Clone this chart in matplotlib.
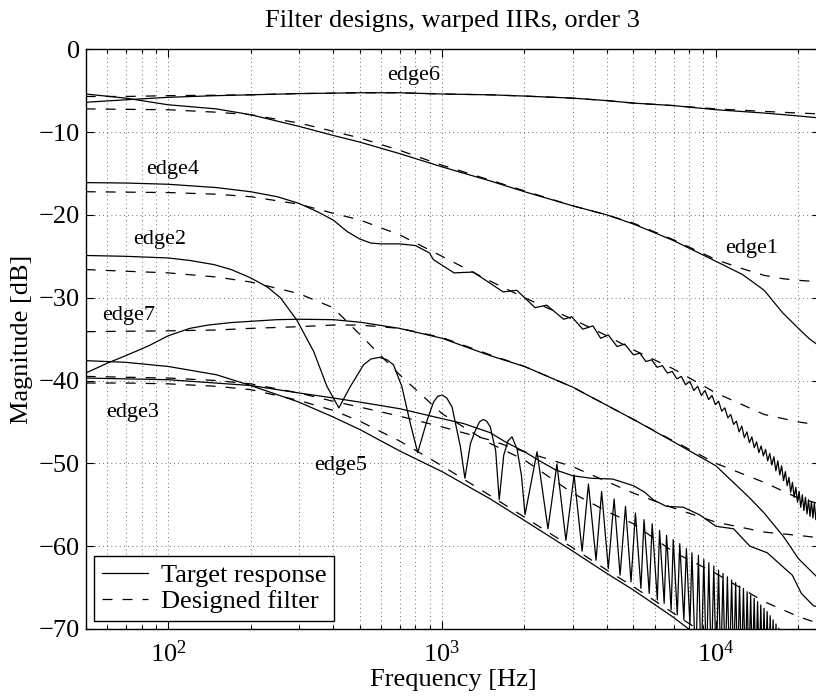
import matplotlib.pyplot as plt
from matplotlib.ticker import LogLocator, FixedLocator, NullLocator, LogFormatterMathtext

plt.rcParams['font.family'] = ['Liberation Serif', 'DejaVu Serif']
plt.rcParams['mathtext.fontset'] = 'stix'

# common frequency grid for the smooth responses [Hz]
freq = [50, 70, 100, 150, 200, 300, 400, 500, 700, 1000, 1500, 2000,
        3000, 4000, 5000, 7000, 10000, 15000, 20000, 24000]

# magnitudes in dB on the common grid
edge6_target = [-6.4, -6.1, -5.8, -5.6, -5.5, -5.35, -5.3, -5.25, -5.25, -5.4, -5.5, -5.65,
                -5.9, -6.2, -6.5, -6.8, -7.3, -7.7, -8.05, -8.3]
edge6_design = [-5.7, -5.7, -5.6, -5.55, -5.5, -5.35, -5.3, -5.25, -5.25, -5.4, -5.5, -5.65,
                -5.9, -6.2, -6.5, -6.8, -7.2, -7.5, -7.7, -7.8]
edge4_design = [-17.2, -17.25, -17.3, -17.5, -17.8, -18.7, -19.8, -20.6, -22.4, -25.0, -28.0, -30.0,
                -32.6, -34.6, -36.3, -38.6, -41.5, -44.1, -45.0, -45.4]
edge2_design = [-26.6, -26.8, -27.0, -27.5, -28.1, -29.5, -31.2, -34.4, -39.3, -44.0, -47.6, -49.6,
                -53.6, -55.8, -57.3, -60.7, -63.3, -66.7, -68.5, -69.4]
edge7_design = [-34.1, -34.05, -34.0, -33.9, -33.7, -33.5, -33.3, -33.3, -33.7, -34.8, -36.9, -38.3,
                -40.8, -43.0, -44.7, -47.3, -50.0, -52.3, -54.2, -54.9]
edge3_design = [-39.5, -39.6, -39.7, -40.0, -40.4, -41.5, -42.5, -43.2, -44.3, -45.6, -47.2, -48.6,
                -50.4, -52.2, -53.6, -55.4, -57.1, -58.3, -58.7, -59.0]
edge5_target = [-37.6, -37.8, -38.3, -39.3, -40.6, -42.6, -44.4, -45.9, -48.5, -51.0, -54.3, -56.9,
                -60.6, -63.3, -65.3, -68.6, -72.5, -76.0, -79.0, -81.0]
edge5_design = [-40.3, -40.3, -40.4, -40.7, -41.1, -42.4, -43.6, -44.9, -47.3, -50.3, -53.9, -56.5,
                -60.2, -62.9, -64.9, -68.1, -71.5, -75.0, -78.0, -80.0]

# edge7 rises quickly at the low end
edge7_freq = [50, 60, 70, 85, 100, 120, 140, 170, 200, 250, 300, 400, 500, 700, 1000, 1500, 2000,
              3000, 4000, 5000, 7000, 10000, 13300, 15000, 17700, 20000, 24000]
edge7_target = [-39.1, -37.9, -37.0, -35.8, -34.6, -33.7, -33.3, -33.0, -32.85, -32.65, -32.6,
                -32.65, -32.95, -33.7, -34.9, -37.0, -38.3, -40.8, -43.0, -44.7, -47.4, -50.3,
                -54.2, -56.0, -58.9, -61.5, -64.1]

# edge1 bends late, so it gets a denser grid at the top end
edge1_freq = [50, 70, 100, 150, 200, 300, 400, 500, 700, 1000, 1500, 2000,
              3000, 4000, 5000, 7000, 10000, 12500, 15000, 17500, 20000, 22000, 24000]
edge1_target = [-5.4, -5.9, -6.7, -7.2, -7.9, -9.3, -10.4, -11.2, -12.6, -14.2, -15.9, -17.2,
                -18.9, -20.0, -21.1, -23.1, -25.6, -27.2, -29.1, -31.8, -33.7, -35.0, -35.9]
edge1_design = [-7.2, -7.25, -7.3, -7.6, -7.9, -8.9, -9.9, -10.7, -12.2, -14.0, -15.8, -17.1,
                -18.9, -20.0, -21.0, -23.0, -25.4, -26.5, -27.3, -27.7, -27.9, -28.0, -28.1]

# responses with their own frequency points
edge4_freq = [50, 70, 100, 150, 200, 250, 300, 350, 400, 450, 500, 550, 600, 700, 800, 900, 930,
              1106, 1300, 1672, 1875, 2186, 2410, 2780, 2975, 3265, 3556, 3795, 4046, 4357, 4640,
              5000, 5275, 5550, 5825, 6100, 6375, 6650, 6925, 7200, 7475, 7750, 8025, 8300, 8575,
              8850, 9125, 9400, 9675, 9950, 10225, 10500, 10775, 11050, 11325, 11600, 11875,
              12150, 12425, 12700, 12975, 13250, 13525, 13800, 14075, 14350, 14625, 14900, 15175,
              15450, 15725, 16000, 16275, 16550, 16825, 17100, 17375, 17650, 17925, 18200, 18475,
              18750, 19025, 19300, 19575, 19850, 20125, 20400, 20675, 20950, 21225, 21500, 21775,
              22050, 22325, 22600, 22875, 23150, 23425, 23700, 23975]
edge4_target = [-16.1, -16.15, -16.3, -16.7, -17.2, -17.8, -18.6, -19.6, -20.6, -22.0, -22.9, -23.4,
                -23.5, -23.5, -23.7, -24.6, -25.4,
                -27.0, -26.9, -29.3, -29.1, -31.2, -30.9, -32.6, -32.3, -33.8, -33.4, -34.9, -34.5,
                -35.9, -35.6,
                -36.9, -36.7, -37.7, -37.5, -38.4, -38.2, -39.1, -38.9, -39.8, -39.5, -40.5, -40.1,
                -41.2, -40.7, -41.8, -41.2, -42.3, -41.8, -42.9, -42.5, -43.7, -43.3, -44.5, -44.1,
                -45.3, -44.9, -46.2, -45.5, -46.9, -46.2, -47.5, -46.8, -48.1, -47.4, -48.7, -47.9,
                -49.1, -48.3, -49.7, -48.8, -50.2, -49.2, -50.9, -49.7, -51.4, -50.3, -52.1, -51.0,
                -52.7, -51.7, -53.5, -52.3, -54.1, -52.9, -54.7, -53.4, -55.3, -53.8, -55.7, -54.1,
                -56.1, -54.4, -56.4, -54.6, -56.6, -54.8, -56.8, -55.0, -56.9, -55.1]

edge2_freq = [50, 70, 100, 120, 147, 170, 200, 230, 257, 295, 340, 380, 420, 463, 517, 550, 592,
              630, 665, 713, 766, 815, 882, 931, 965, 1000, 1040, 1088, 1167, 1212, 1270, 1325,
              1370, 1412, 1455, 1500, 1570, 1617, 1680, 1740, 1801, 1880, 1950, 2009, 2222, 2436,
              2627, 2833, 3034, 3246, 3424, 3650, 3825, 4046, 4248, 4467, 4675, 4898, 5082, 5322,
              5464, 5709, 5851, 6110, 6225, 6472, 6602, 6862, 6985, 7225, 7378, 7636, 7800, 8035,
              8172, 8430, 8630, 8830, 9030, 9230, 9420, 9620, 9820, 10020, 10220, 10420, 10610,
              10810, 11010, 11210, 11410, 11610, 11800, 12000, 12200, 12400, 12600, 12800, 13000,
              13190, 13390, 13590, 13790, 13990, 14190, 14390, 14580, 14780, 14980, 15180, 15380,
              15580, 15780, 15970, 16170, 16370, 16570, 16770, 16970, 17170, 17370, 17570]
edge2_target = [-24.9, -25.0, -25.2, -25.5, -26.0, -26.6, -27.6, -28.7, -30.0, -32.7, -36.5, -40.7,
                -43.3, -40.7, -38.1, -37.4, -37.2, -37.5, -38.1, -40.7, -45.2, -48.7, -44.8, -42.6,
                -41.9, -41.75, -42.1, -43.2, -48.0, -51.8, -47.6, -46.0, -45.0, -44.7, -44.9, -45.6,
                -48.5, -54.4, -49.0, -47.3, -46.8, -48.3, -51.5, -56.2, -48.6, -57.9,
                -50.1, -59.3, -51.4, -60.6, -52.5, -61.7, -53.4, -62.7, -54.3, -63.5, -55.2, -64.3,
                -56.0, -65.1, -56.8, -65.7, -57.3, -66.5, -58.1, -66.9, -58.7, -67.7, -59.2, -68.3,
                -59.7, -68.9, -60.3, -69.5, -60.8, -75.0, -61.1, -75.0, -61.6, -75.0,
                -62.0, -75.0, -62.4, -75.0, -62.9, -75.0, -63.3, -75.0, -63.7, -75.0, -64.1, -75.0,
                -64.4, -75.0, -64.8, -75.0, -65.1, -75.0, -65.5, -75.0, -65.9, -75.0, -66.3, -75.0,
                -66.7, -75.0, -67.1, -75.0, -67.5, -75.0, -67.9, -75.0, -68.4, -75.0, -68.9, -75.0,
                -69.4, -75.0, -69.9, -75.0, -70.4, -75.0]

edge3_freq = [50, 100, 200, 300, 400, 500, 700, 1000, 1200, 1500, 1700, 2000, 2300, 2600, 3000,
              3500, 4200, 5000, 5500, 5900, 6600, 7600, 8700, 10000, 11600, 13300, 15400, 17700,
              19000, 20500, 22700, 24000]
edge3_target = [-39.7, -39.9, -40.6, -41.5, -42.1, -42.6, -43.4, -44.6, -45.2, -46.3, -47.4, -48.6,
                -49.8, -50.8, -51.5, -51.8, -51.9, -52.7, -53.5, -54.4, -55.2, -55.3, -56.2, -57.6,
                -57.9, -60.0, -60.8, -62.6, -63.5, -65.7, -67.2, -67.4]

# curve labels: (name, left frequency, level in dB)
labels = [('edge6', 630, -3.2), ('edge4', 83, -14.5), ('edge2', 74.5, -23.0),
          ('edge7', 57.4, -32.15), ('edge3', 59.6, -43.9), ('edge5', 342, -50.3),
          ('edge1', 10800, -24.1)]

fig = plt.figure(figsize=(8.16, 6.97), dpi=100)
ax = fig.add_axes([0.105, 0.0976, 0.900, 0.8317])

solid = dict(color='black', lw=0.9)
dashed = dict(color='black', lw=0.9, ls=(0, (8, 8)))

ax.plot(freq, edge6_target, label='Target response', **solid)
ax.plot(freq, edge6_design, label='Designed filter', **dashed)
ax.plot(edge1_freq, edge1_target, **solid)
ax.plot(edge1_freq, edge1_design, **dashed)
ax.plot(edge4_freq, edge4_target, **solid)
ax.plot(freq, edge4_design, **dashed)
ax.plot(edge2_freq, edge2_target, **solid)
ax.plot(freq, edge2_design, **dashed)
ax.plot(edge7_freq, edge7_target, **solid)
ax.plot(freq, edge7_design, **dashed)
ax.plot(edge3_freq, edge3_target, **solid)
ax.plot(freq, edge3_design, **dashed)
ax.plot(freq, edge5_target, **solid)
ax.plot(freq, edge5_design, **dashed)

for name, f, db in labels:
    ax.text(f, db, name, fontsize=16, ha='left', va='center')

ax.set_xscale('log')
ax.set_xlim(50, 24000)
ax.set_ylim(-70, 0)
ax.yaxis.set_major_locator(FixedLocator(range(-70, 1, 10)))
ax.yaxis.set_minor_locator(NullLocator())
ax.xaxis.set_major_locator(LogLocator(base=10))
ax.xaxis.set_minor_locator(LogLocator(base=10, subs=range(2, 10)))
ax.xaxis.set_major_formatter(LogFormatterMathtext())

grid = dict(color='0.25', lw=0.6, ls=(0, (1, 4)))
ax.grid(True, which='major', axis='both', **grid)
ax.grid(True, which='minor', axis='x', **grid)

ax.tick_params(which='both', direction='in', top=True, right=True, labelsize=19, width=0.8)
ax.tick_params(which='major', length=5.8)
ax.tick_params(which='minor', length=2.9)
ax.tick_params(axis='x', pad=8)
ax.tick_params(axis='y', pad=4)
for s in ax.spines.values():
    s.set_linewidth(1.0)

ax.set_title('Filter designs, warped IIRs, order 3', fontsize=19, pad=16)
ax.set_xlabel('Frequency [Hz]', fontsize=19, labelpad=2)
ax.set_ylabel('Magnitude [dB]', fontsize=19, labelpad=4)

leg = ax.legend(loc='lower left', fontsize=19, frameon=True, fancybox=False,
                edgecolor='black', framealpha=1, borderaxespad=0.3, borderpad=0.3,
                labelspacing=0.1, handlelength=1.75, handletextpad=0.5)
leg.get_frame().set_linewidth(1.0)

fig.savefig('out.png', dpi=100)
